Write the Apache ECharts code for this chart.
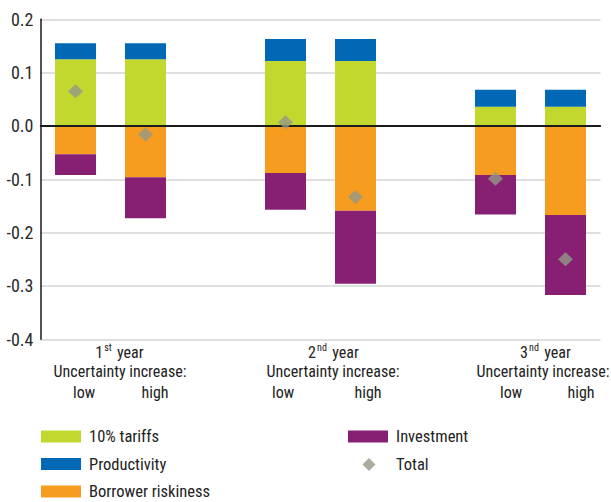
<!DOCTYPE html>
<html>
<head>
<meta charset="utf-8">
<script src="https://cdn.jsdelivr.net/npm/echarts@6/dist/echarts.min.js"></script>
<style>
  html, body { margin: 0; padding: 0; background: #fff; }
  #chart { width: 611px; height: 502px; }
  /* narrow face of Roboto for every label */
  #chart svg text { font-stretch: condensed !important; }
</style>
</head>
<body>
<div id="chart"></div>
<script>
// Slots along the category axis; the empty slots separate the three years.
const categories = ['low', 'high', '', 'low', 'high', '', 'low', 'high'];

// Contributions per scenario ('-' marks a spacer slot)
const tariffs      = [0.125, 0.125, '-', 0.122, 0.122, '-', 0.036, 0.036];
const productivity = [0.030, 0.030, '-', 0.041, 0.041, '-', 0.032, 0.032];
const borrower     = [-0.053, -0.096, '-', -0.088, -0.159, '-', -0.092, -0.167];
const investment   = [-0.039, -0.077, '-', -0.069, -0.137, '-', -0.074, -0.150];
const total        = [0.065, -0.016, '-', 0.007, -0.133, '-', -0.099, -0.250];

const yTicks = [-0.4, -0.3, -0.2, -0.1, 0.0, 0.1, 0.2];

const FONT = 'Roboto, sans-serif';
const TXT = '#222222';

const chart = echarts.init(document.getElementById('chart'), null, { renderer: 'svg' });

function txt(x, y, text) {
  return {
    type: 'text',
    x: x, y: y,
    style: {
      text: text,
      fontFamily: FONT,
      fontSize: 16,
      fill: TXT,
      align: 'center',
      verticalAlign: 'middle'
    }
  };
}

function yearTitle(x, num, sup) {
  const base = { fontFamily: FONT, fill: TXT, lineHeight: 18 };
  return {
    type: 'text',
    x: x, y: 351,
    style: {
      text: '{n|' + num + '}{s|' + sup + '}{y|year}',
      fontFamily: FONT,
      fill: TXT,
      align: 'center',
      verticalAlign: 'middle',
      rich: {
        n: Object.assign({ fontSize: 16, verticalAlign: 'bottom' }, base),
        s: Object.assign({ fontSize: 10, verticalAlign: 'top', padding: [0, 0, 8, 0] }, base),
        y: Object.assign({ fontSize: 16, verticalAlign: 'bottom', padding: [0, 0, 0, 3] }, base)
      }
    }
  };
}

const legendText = { fontFamily: FONT, fontSize: 16.5, color: TXT, padding: [0, 0, 0, 3] };

const option = {
  animation: false,
  backgroundColor: '#ffffff',
  grid: { left: 40.5, right: 10.5, top: 19.3, bottom: 162.7 },
  xAxis: {
    type: 'category',
    data: categories,
    boundaryGap: true,
    axisLine: { show: true, lineStyle: { color: '#1a1a1a', width: 1.5 } },
    axisTick: { show: false },
    axisLabel: { show: false },
    splitLine: { show: false }
  },
  yAxis: {
    type: 'value',
    min: yTicks[0],
    max: yTicks[yTicks.length - 1],
    interval: 0.1,
    axisLine: { show: true, lineStyle: { color: '#1a1a1a', width: 1.5 } },
    axisTick: { show: false },
    axisLabel: {
      margin: 7,
      fontFamily: FONT,
      fontSize: 18,
      color: '#2a2a2a',
      formatter: v => v.toFixed(1)
    },
    splitLine: { show: true, lineStyle: { color: '#d4d4d4', width: 1.5 } }
  },
  legend: [
    {
      orient: 'vertical',
      left: 41, top: 428, height: 90, padding: 0,
      itemWidth: 40, itemHeight: 12, itemGap: 10.5,
      icon: 'rect',
      textStyle: legendText,
      data: ['10% tariffs', 'Productivity', 'Borrower riskiness']
    },
    {
      orient: 'vertical',
      left: 348, top: 428, padding: 0,
      itemWidth: 40, itemHeight: 12,
      icon: 'rect',
      textStyle: legendText,
      data: ['Investment']
    },
    {
      orient: 'vertical',
      left: 362.5, top: 456, padding: 0,
      itemWidth: 13, itemHeight: 13,
      icon: 'diamond',
      textStyle: Object.assign({}, legendText, { padding: [0, 0, 0, 15.5] }),
      data: ['Total']
    }
  ],
  series: [
    {
      name: '10% tariffs', type: 'bar', stack: 'c', barWidth: 41,
      itemStyle: { color: '#c2d82f' }, data: tariffs
    },
    {
      name: 'Productivity', type: 'bar', stack: 'c', barWidth: 41,
      itemStyle: { color: '#0068b4' }, data: productivity
    },
    {
      name: 'Borrower riskiness', type: 'bar', stack: 'c', barWidth: 41,
      itemStyle: { color: '#f69c1e' }, data: borrower
    },
    {
      name: 'Investment', type: 'bar', stack: 'c', barWidth: 41,
      itemStyle: { color: '#872072' }, data: investment
    },
    {
      name: 'Total', type: 'scatter', symbol: 'diamond', symbolSize: [15, 14], z: 5,
      itemStyle: { color: '#939987' }, data: total,
      markLine: {
        silent: true, symbol: 'none', z: 4,
        label: { show: false },
        lineStyle: { color: '#1a1a1a', width: 2, type: 'solid' },
        data: [{ yAxis: 0 }]
      }
    }
  ],
  graphic: [
    yearTitle(120, '1', 'st'),
    yearTitle(334, '2', 'nd'),
    yearTitle(546, '3', 'nd'),
    txt(120, 371, 'Uncertainty increase:'),
    txt(333, 371, 'Uncertainty increase:'),
    txt(543, 371, 'Uncertainty increase:'),
    txt(84, 392, 'low'), txt(155, 392, 'high'),
    txt(283, 392, 'low'), txt(368, 392, 'high'),
    txt(511, 392, 'low'), txt(581, 392, 'high')
  ]
};

chart.setOption(option);
</script>
</body>
</html>
